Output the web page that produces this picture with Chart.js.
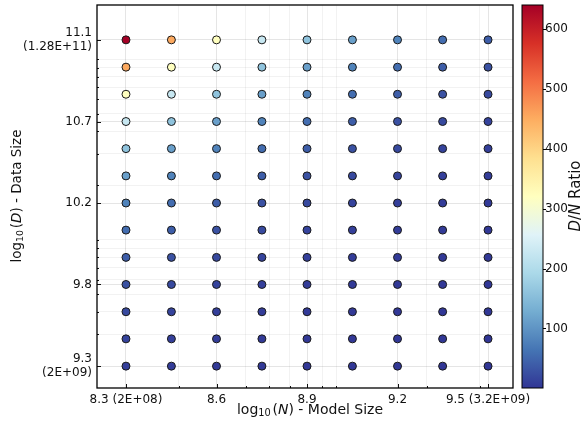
<!DOCTYPE html>
<html>
<head>
<meta charset="utf-8">
<script src="https://cdn.jsdelivr.net/npm/chart.js@4"></script>
<style>
  html, body { margin: 0; padding: 0; background: #fff; }
  #wrap { width: 581px; height: 423px; position: relative; }
</style>
</head>
<body>
<div id="wrap"><canvas id="grafico"></canvas></div>
<script>
// log10(N) of each model size column
const modelSizeLog = [8.301, 8.452, 8.602, 8.753, 8.903, 9.054, 9.204, 9.354, 9.505];
// log10(D) of each data size row, bottom to top
const dataSizeLog = [9.301, 9.452, 9.602, 9.753, 9.903, 10.054, 10.204, 10.354, 10.505, 10.655, 10.806, 10.956, 11.107];
// D/N ratio per row (same order as dataSizeLog), one value per model size
const ratioRows = [
    [10, 7.07, 5, 3.54, 2.5, 1.77, 1.25, 0.88, 0.63],
    [14.1, 10, 7.07, 5, 3.54, 2.5, 1.77, 1.25, 0.88],
    [20, 14.1, 10, 7.07, 5, 3.54, 2.5, 1.77, 1.25],
    [28.3, 20, 14.1, 10, 7.07, 5, 3.54, 2.5, 1.77],
    [40, 28.3, 20, 14.1, 10, 7.07, 5, 3.54, 2.5],
    [56.6, 40, 28.3, 20, 14.1, 10, 7.07, 5, 3.54],
    [80, 56.6, 40, 28.3, 20, 14.1, 10, 7.07, 5],
    [113, 80, 56.6, 40, 28.3, 20, 14.1, 10, 7.07],
    [160, 113, 80, 56.6, 40, 28.3, 20, 14.1, 10],
    [226, 160, 113, 80, 56.6, 40, 28.3, 20, 14.1],
    [320, 226, 160, 113, 80, 56.6, 40, 28.3, 20],
    [453, 320, 226, 160, 113, 80, 56.6, 40, 28.3],
    [640, 453, 320, 226, 160, 113, 80, 56.6, 40]
];
const ratioMin = 0.625;
const ratioMax = 640;

const xTickVals = [8.301, 8.602, 8.903, 9.204, 9.505];
const xTickLabels = ['8.3 (2E+08)', '8.6', '8.9', '9.2', '9.5 (3.2E+09)'];
const xMinorVals = [8.477, 8.699, 8.778, 8.845, 8.954, 9.0, 9.301, 9.477];
const yTickVals = [9.301, 9.753, 10.204, 10.655, 11.107];
const yTickLabels = [['9.3', '(2E+09)'], '9.8', '10.2', '10.7', ['11.1', '(1.28E+11)']];
const yMinorVals = [9.477, 9.602, 9.699, 9.778, 9.845, 9.903, 9.954, 10.0, 10.301, 10.477, 10.602,
    10.699, 10.778, 10.845, 10.903, 10.954, 11.0];
const cbTickVals = [100, 200, 300, 400, 500, 600];

// RdYlBu reversed
const paleta = ['#313695', '#4575b4', '#74add1', '#abd9e9', '#e0f3f8', '#ffffbf',
    '#fee090', '#fdae61', '#f46d43', '#d73027', '#a50026'];

function hexRgb(h) {
    return [parseInt(h.substr(1, 2), 16), parseInt(h.substr(3, 2), 16), parseInt(h.substr(5, 2), 16)];
}

function colorPara(v) {
    let t = (v - ratioMin) / (ratioMax - ratioMin);
    t = Math.max(0, Math.min(1, t)) * (paleta.length - 1);
    const i = Math.min(Math.floor(t), paleta.length - 2);
    const f = t - i;
    const a = hexRgb(paleta[i]), b = hexRgb(paleta[i + 1]);
    const c = a.map((x, k) => Math.round(x + (b[k] - x) * f));
    return `rgb(${c[0]},${c[1]},${c[2]})`;
}

const puntos = [];
const colores = [];
dataSizeLog.forEach((y, j) => {
    modelSizeLog.forEach((x, k) => {
        puntos.push({ x: x, y: y });
        colores.push(colorPara(ratioRows[j][k]));
    });
});

const FONT = "'DejaVu Sans', sans-serif";
Chart.defaults.font.family = FONT;
Chart.defaults.font.size = 12;
Chart.defaults.color = '#111';

function esMayor(lista, v) {
    return lista.some(m => Math.abs(m - v) < 1e-6);
}

// fixed box size, no extra label padding from the layout
function fijar(ancho, alto) {
    return axis => {
        if (ancho) axis.width = ancho;
        if (alto) axis.height = alto;
        axis.paddingTop = 0; axis.paddingBottom = 0;
        axis.paddingLeft = 0; axis.paddingRight = 0;
    };
}

function drawRich(ctx, parts, x, y, rot) {
    ctx.save();
    ctx.translate(x, y);
    if (rot) ctx.rotate(-Math.PI / 2);
    let total = 0;
    parts.forEach(p => { ctx.font = p.font; p.w = ctx.measureText(p.text).width; total += p.w; });
    let cx = -total / 2;
    ctx.textBaseline = 'middle';
    ctx.textAlign = 'left';
    ctx.fillStyle = '#111';
    parts.forEach(p => { ctx.font = p.font; ctx.fillText(p.text, cx, p.dy || 0); cx += p.w; });
    ctx.restore();
}

function tituloLog(letra, resto, size) {
    const f = size + 'px ' + FONT;
    return [
        { text: 'log', font: f },
        { text: '10', font: (size * 0.7) + 'px ' + FONT, dy: size * 0.25 },
        { text: ' ', font: (size * 0.4) + 'px ' + FONT },
        { text: '(', font: f },
        { text: letra, font: 'italic ' + f },
        { text: resto, font: f }
    ];
}

const extras = {
    id: 'extras',
    afterDraw(chart) {
        const ctx = chart.ctx;
        const a = chart.chartArea;
        const sx = chart.scales.x, sy = chart.scales.y, cb = chart.scales.cb;

        // inward tick marks
        ctx.save();
        ctx.strokeStyle = '#111';
        ctx.lineWidth = 1;
        xTickVals.concat(xMinorVals).forEach(v => {
            const px = Math.round(sx.getPixelForValue(v)) + 0.5;
            const len = esMayor(xTickVals, v) ? 4 : 2;
            ctx.beginPath(); ctx.moveTo(px, a.bottom); ctx.lineTo(px, a.bottom - len); ctx.stroke();
        });
        yTickVals.concat(yMinorVals).forEach(v => {
            const py = Math.round(sy.getPixelForValue(v)) + 0.5;
            const len = esMayor(yTickVals, v) ? 4 : 2;
            ctx.beginPath(); ctx.moveTo(a.left, py); ctx.lineTo(a.left + len, py); ctx.stroke();
        });

        // frame
        ctx.lineWidth = 1.3;
        ctx.strokeStyle = '#000';
        ctx.strokeRect(a.left, a.top, a.right - a.left, a.bottom - a.top);

        // colorbar
        const cbL = a.right + 9, cbW = 21;
        const grad = ctx.createLinearGradient(0, a.bottom, 0, a.top);
        paleta.forEach((c, i) => grad.addColorStop(i / (paleta.length - 1), c));
        ctx.fillStyle = grad;
        ctx.fillRect(cbL, a.top, cbW, a.bottom - a.top);
        ctx.lineWidth = 1;
        ctx.strokeRect(cbL, a.top, cbW, a.bottom - a.top);
        cbTickVals.forEach(v => {
            const py = Math.round(cb.getPixelForValue(v)) + 0.5;
            ctx.beginPath(); ctx.moveTo(cbL + cbW, py); ctx.lineTo(cbL + cbW + 3, py); ctx.stroke();
        });
        ctx.restore();

        // axis titles
        drawRich(ctx, tituloLog('N', ') - Model Size', 14), 310, 410, false);
        drawRich(ctx, tituloLog('D', ') - Data Size', 13.5), 17, 196, true);
        const f = '15px ' + FONT, fi = 'italic 15px ' + FONT;
        drawRich(ctx, [
            { text: 'D', font: fi }, { text: '/', font: f }, { text: 'N', font: fi }, { text: ' Ratio', font: f }
        ], 576, 196, true);
    }
};

new Chart(document.getElementById('grafico'), {
    type: 'scatter',
    data: {
        datasets: [{
            data: puntos,
            backgroundColor: colores,
            borderColor: '#1a1a1a',
            borderWidth: 1,
            pointRadius: 4,
            pointHoverRadius: 4
        }]
    },
    options: {
        responsive: true,
        maintainAspectRatio: false,
        animation: false,
        layout: { padding: { top: 3, right: 0, left: 0, bottom: 0 } },
        plugins: { legend: { display: false }, tooltip: { enabled: false } },
        scales: {
            x: {
                type: 'linear',
                min: 8.2046,
                max: 9.588,
                afterBuildTicks: axis => {
                    axis.ticks = xTickVals.concat(xMinorVals).sort((p, q) => p - q).map(v => ({ value: v }));
                },
                afterFit: fijar(0, 35),
                ticks: {
                    autoSkip: false,
                    maxRotation: 0,
                    padding: 5,
                    callback: v => {
                        const i = xTickVals.findIndex(m => Math.abs(m - v) < 1e-6);
                        return i >= 0 ? xTickLabels[i] : '';
                    }
                },
                grid: {
                    drawTicks: false,
                    color: ctx => esMayor(xTickVals, ctx.tick.value) ? 'rgba(0,0,0,0.1)' : 'rgba(0,0,0,0.05)'
                },
                border: { display: false }
            },
            y: {
                type: 'linear',
                min: 9.180,
                max: 11.300,
                afterBuildTicks: axis => {
                    axis.ticks = yTickVals.concat(yMinorVals).sort((p, q) => p - q).map(v => ({ value: v }));
                },
                afterFit: fijar(97, 0),
                ticks: {
                    autoSkip: false,
                    padding: 5,
                    callback: v => {
                        const i = yTickVals.findIndex(m => Math.abs(m - v) < 1e-6);
                        return i >= 0 ? yTickLabels[i] : '';
                    }
                },
                grid: {
                    drawTicks: false,
                    color: ctx => esMayor(yTickVals, ctx.tick.value) ? 'rgba(0,0,0,0.1)' : 'rgba(0,0,0,0.05)'
                },
                border: { display: false }
            },
            cb: {
                type: 'linear',
                position: 'right',
                min: ratioMin,
                max: ratioMax,
                afterBuildTicks: axis => {
                    axis.ticks = cbTickVals.map(v => ({ value: v }));
                },
                afterFit: fijar(68, 0),
                ticks: { padding: 32, autoSkip: false },
                grid: { drawOnChartArea: false, drawTicks: false },
                border: { display: false }
            }
        }
    },
    plugins: [extras]
});
</script>
</body>
</html>
